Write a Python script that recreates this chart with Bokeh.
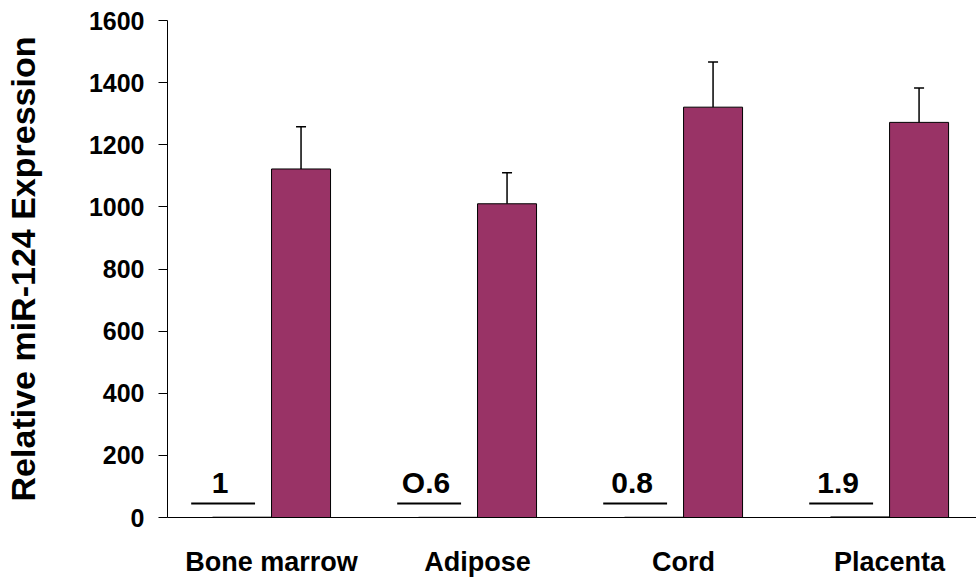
from bokeh.plotting import figure
from bokeh.models import ColumnDataSource, Range1d, FixedTicker, Whisker, TeeHead
from bokeh.transform import dodge
from bokeh.core.properties import value
from bokeh.embed import file_html
from bokeh.resources import INLINE

# ---- data ----
categories = ["Bone marrow", "Adipose", "Cord", "Placenta"]
control_values = [1.0, 0.6, 0.8, 1.9]
control_labels = ["1", "O.6", "0.8", "1.9"]
treated_values = [1122, 1010, 1321, 1272]
treated_errors = [136, 100, 145, 111]
y_ticks = [0, 200, 400, 600, 800, 1000, 1200, 1400, 1600]

idx = list(range(len(categories)))
src = ColumnDataSource(dict(
    x=idx,
    ctrl=control_values,
    val=treated_values,
    upper=[v + e for v, e in zip(treated_values, treated_errors)],
))

FONT = "Liberation Sans"
BAR_W = 0.2864
OFF = BAR_W / 2

p = figure(
    output_backend="svg", toolbar_location=None,
    frame_width=809, frame_height=497,
    min_border_left=167, min_border_top=20, min_border_bottom=55, min_border_right=0,
    x_range=Range1d(-0.505, 3.422), y_range=Range1d(0, 1600),
)
p.outline_line_color = None
p.grid.visible = False
p.background_fill_color = "white"
p.border_fill_color = "white"

# control bars (tiny values) and treated bars
p.vbar(x=dodge("x", -OFF, range=p.x_range), top="ctrl", width=BAR_W, source=src,
       fill_color="#993366", line_color="black", line_width=1)
p.vbar(x=dodge("x", OFF, range=p.x_range), top="val", width=BAR_W, source=src,
       fill_color="#993366", line_color="black", line_width=1)

wh = Whisker(source=src, base=dodge("x", OFF, range=p.x_range), lower="val", upper="upper",
             line_color="black", line_width=1.5, lower_head=None,
             upper_head=TeeHead(size=10, line_color="black", line_width=1.5))
p.add_layout(wh)

# annotation of the small control values: underline + label
LBL_Y = 112
LINE_Y = 45
ann = ColumnDataSource(dict(
    x0=[i - 0.39 for i in idx], x1=[i - 0.08 for i in idx], xc=[i - 0.25 for i in idx],
    y=[LINE_Y] * len(idx), ty=[LBL_Y] * len(idx), txt=control_labels,
))
p.segment(x0="x0", y0="y", x1="x1", y1="y", source=ann, line_color="black", line_width=2)
p.text(x="xc", y="ty", text="txt", source=ann, text_font=value(FONT), text_font_style="bold",
       text_font_size="30px", text_align="center", text_baseline="alphabetic", text_color="black")

# axes
p.yaxis.ticker = FixedTicker(ticks=y_ticks)
p.yaxis.axis_label = "Relative miR-124 Expression"
p.yaxis.axis_label_text_font = FONT
p.yaxis.axis_label_text_font_style = "bold"
p.yaxis.axis_label_text_font_size = "34px"
p.yaxis.axis_label_text_color = "black"
p.yaxis.axis_label_standoff = 44
p.yaxis.major_label_text_font = FONT
p.yaxis.major_label_text_font_style = "bold"
p.yaxis.major_label_text_font_size = "25px"
p.yaxis.major_label_text_color = "black"
p.yaxis.major_label_standoff = 14
p.yaxis.major_tick_in = 0
p.yaxis.major_tick_out = 9
p.yaxis.minor_tick_line_color = None
p.yaxis.axis_line_color = "black"
p.yaxis.major_tick_line_color = "black"

p.xaxis.ticker = FixedTicker(ticks=idx)
p.xaxis.major_label_overrides = {i: c for i, c in zip(idx, categories)}
p.xaxis.major_label_text_font = FONT
p.xaxis.major_label_text_font_style = "bold"
p.xaxis.major_label_text_font_size = "27px"
p.xaxis.major_label_text_color = "black"
p.xaxis.major_label_standoff = 29
p.xaxis.major_tick_in = 0
p.xaxis.major_tick_out = 0
p.xaxis.minor_tick_line_color = None
p.xaxis.axis_line_color = "black"

open("out.html", "w").write(file_html(p, INLINE))
